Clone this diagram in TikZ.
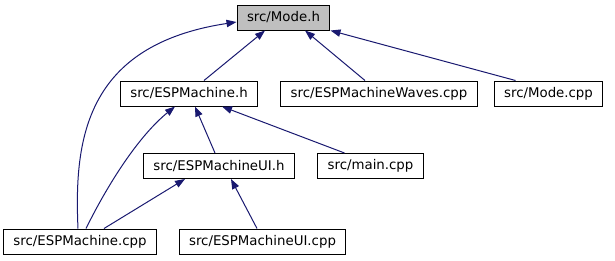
\documentclass[tikz,border=0pt]{standalone}
\usepackage{fontspec}
\setmainfont{DejaVu Sans}
\usetikzlibrary{arrows.meta}
\usetikzlibrary{calc}
\usetikzlibrary{positioning}
\definecolor{edgeblue}{HTML}{191970}
\definecolor{rootgray}{HTML}{BFBFBF}

\begin{document}
\begin{tikzpicture}[x=0.75pt, y=-0.75pt,
		file/.style = {draw=black, line width=0.75pt, fill=white, inner xsep=7.5pt,
			minimum height=18.75pt, font=\fontsize{10}{12}\selectfont},
		incl/.style = {draw=edgeblue, line width=0.75pt, -{Triangle[length=7.5pt,width=5.5pt]}}]
		\useasboundingbox (0,0) rectangle (615,261);

		% files
		\node[file, fill=rootgray] (modeh) at (283.5,17.5) {src/Mode.h};
		\node[file] (espmh) at (189,93.5) {src/ESPMachine.h};
		\node[file] (waves) at (379,93.5) {src/ESPMachineWaves.cpp};
		\node[file] (modecpp) at (548.5,93.5) {src/Mode.cpp};
		\node[file] (uih) at (219,166) {src/ESPMachineUI.h};
		\node[file] (maincpp) at (370.5,166) {src/main.cpp};
		\node[file] (espmcpp) at (80,241.5) {src/ESPMachine.cpp};
		\node[file] (uicpp) at (262.5,241.5) {src/ESPMachineUI.cpp};

		% includes
		\draw[incl] ($(espmh.north)+(15,0)$) -- ($(modeh.south)+(-18.5,0)$);
		\draw[incl] ($(waves.north)+(-14,0)$) -- ($(modeh.south)+(21.5,0)$);
		\draw[incl] ($(modecpp.north)+(-33,0)$) -- (modeh.south east);
		\draw[incl] ($(espmcpp.north)+(-2,0)$) .. controls (74,140) and (85,45) .. ($(modeh.west)+(0,4.5)$);
		\draw[incl] ($(espmcpp.north)+(6,0)$) .. controls (110,180) and (140,135) .. ($(espmh.south)+(-14,0)$);
		\draw[incl] ($(espmcpp.north)+(24,0)$) -- ($(uih.south)+(-34,0)$);
		\draw[incl] ($(uih.north)+(-4,0)$) -- ($(espmh.south)+(6,0)$);
		\draw[incl] ($(maincpp.north)+(-26,0)$) -- ($(espmh.south)+(33,0)$);
		\draw[incl] ($(uicpp.north)+(-5.5,0)$) -- ($(uih.south)+(12,0)$);
\end{tikzpicture}
\end{document}
